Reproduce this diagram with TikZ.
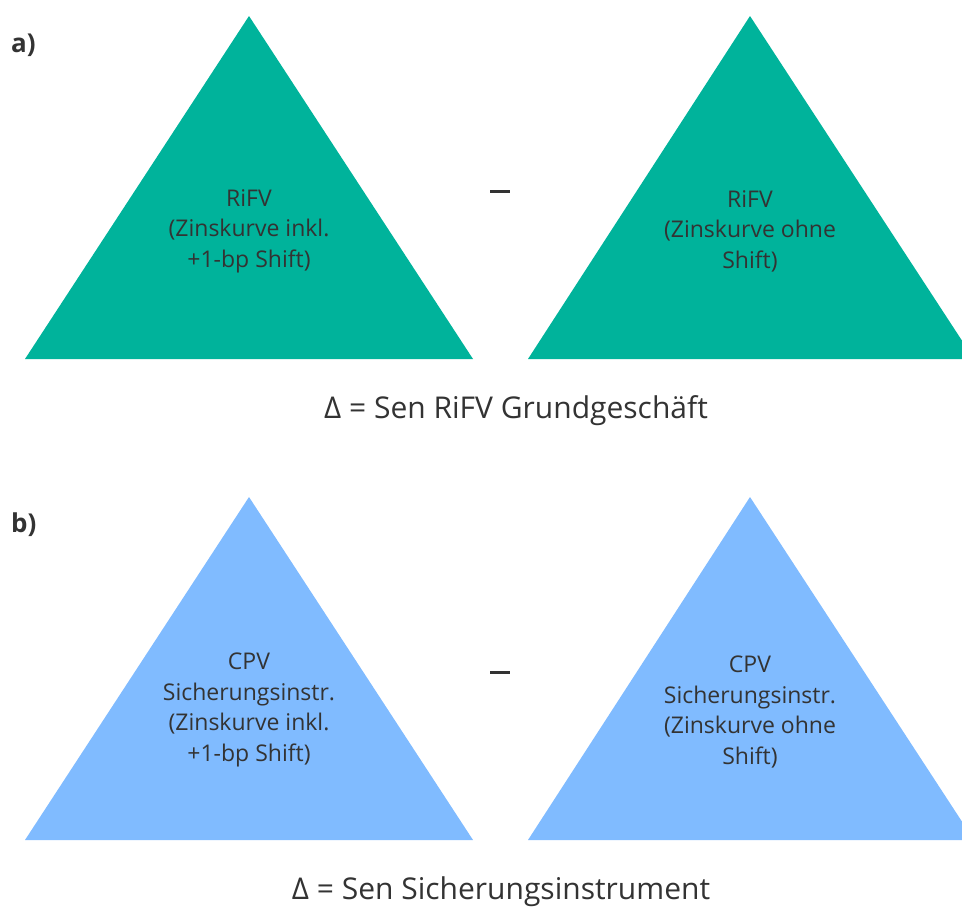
\documentclass[tikz,border=0pt]{standalone}
\usepackage{fontspec}
\setmainfont{Open Sans}
\definecolor{tealc}{HTML}{00B39B}
\definecolor{bluec}{HTML}{80BBFF}
\definecolor{txt}{HTML}{333333}
\begin{document}
\begin{tikzpicture}[x=1pt,y=-1pt,
  intxt/.style={align=center,text=txt,font=\fontsize{23}{30.5}\selectfont,inner sep=0pt},
  captxt/.style={text=txt,font=\fontsize{30}{34}\selectfont,inner sep=0pt},
  tagtxt/.style={text=txt,font=\fontsize{26}{30}\bfseries\selectfont,inner sep=0pt,anchor=west},
  minusbar/.style={fill=txt,draw=none}]
\useasboundingbox (0,0) rectangle (962,908);
\clip (0,0) rectangle (962,908);
% a)
\node[tagtxt] (la) at (11,45) {a)};
\fill[tealc] (249,16) -- (473,359) -- (25,359) -- cycle;
\fill[tealc] (750,16) -- (974,359) -- (528,359) -- cycle;
\node[intxt] (ta1) at (249,231) {RiFV\\(Zinskurve inkl.\\+1-bp Shift)};
\node[intxt] (ta2) at (750,231) {RiFV\\(Zinskurve ohne\\Shift)};
\fill[minusbar] (490,190) rectangle (510,193);
\node[captxt] (ca) at (516,411) {Δ = Sen RiFV Grundgeschäft};
% b)
\node[tagtxt] (lb) at (11,525) {b)};
\fill[bluec] (249,497) -- (473,840) -- (25,840) -- cycle;
\fill[bluec] (750,497) -- (974,840) -- (528,840) -- cycle;
\node[intxt] (tb1) at (249,710) {CPV\\Sicherungsinstr.\\(Zinskurve inkl.\\+1-bp Shift)};
\node[intxt] (tb2) at (750,712) {CPV\\Sicherungsinstr.\\(Zinskurve ohne\\Shift)};
\fill[minusbar] (490,671) rectangle (510,674);
\node[captxt] (cb) at (501,892) {Δ = Sen Sicherungsinstrument};
\end{tikzpicture}
\end{document}
